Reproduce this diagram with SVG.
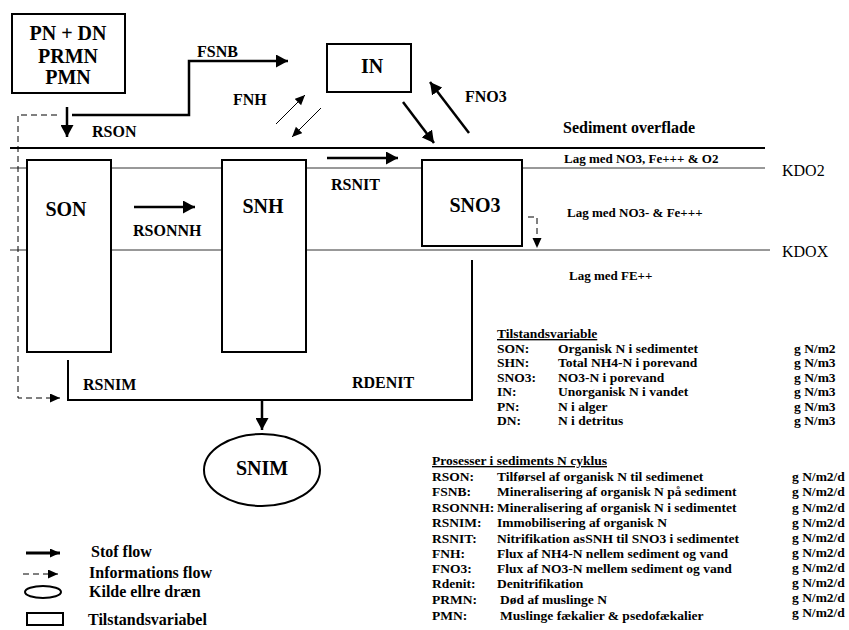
<svg xmlns="http://www.w3.org/2000/svg" width="849" height="630" viewBox="0 0 849 630" font-family="Liberation Serif, Times New Roman, DejaVu Serif, serif">
<style>
text{font-family:'Liberation Serif','Times New Roman','DejaVu Serif',serif;font-weight:bold;fill:#000}
.lbl{font-size:16px}
.big{font-size:20px}
.sm{font-size:13px}
.tb{font-size:13.5px}
.reg{font-weight:normal;font-size:16px}
.box{fill:#fff;stroke:#000;stroke-width:2}
.thick{fill:none;stroke:#000;stroke-width:2.5}
.thin{fill:none;stroke:#000;stroke-width:1}
.dash{fill:none;stroke:#000;stroke-width:1;stroke-dasharray:6,4}
.layer{fill:none;stroke:#333;stroke-width:1}
</style>
<defs>
<marker id="ah" markerUnits="userSpaceOnUse" markerWidth="13" markerHeight="13" refX="12" refY="6.5" orient="auto"><path d="M0,0 L12,6.5 L0,13 z" fill="#000"/></marker>
<marker id="ahs" markerUnits="userSpaceOnUse" markerWidth="10" markerHeight="10" refX="10" refY="4.5" orient="auto"><path d="M0,0 L10,4.5 L0,9 z" fill="#000"/></marker>
</defs>
<rect width="849" height="630" fill="#fff"/>
<g id="layers">
<line x1="10" y1="148" x2="765" y2="148" stroke="#000" stroke-width="2"/>
<line class="layer" x1="10" y1="168" x2="765" y2="168"/>
<line class="layer" x1="10" y1="250" x2="770" y2="250"/>
<text x="563" y="133" style="font-size:16px">Sediment overflade</text>
<text class="sm" x="564" y="163">Lag med NO3, Fe+++ &amp; O2</text>
<text class="sm" x="567" y="217">Lag med NO3- &amp; Fe+++</text>
<text class="sm" x="569" y="280">Lag med FE++</text>
<text class="reg" x="782" y="176">KDO2</text>
<text class="reg" x="782" y="257">KDOX</text>
</g>
<g id="connectors">
<path class="thick" d="M72,115 H189 V61 H288" marker-end="url(#ah)"/>
<path class="thick" d="M67,107 V137" marker-end="url(#ah)"/>
<path class="dash" d="M57,115 H18 V398 H60" marker-end="url(#ahs)"/>
<path class="thin" d="M276,124 L305,95" marker-end="url(#ahs)"/>
<path class="thin" d="M321,108 L292,137" marker-end="url(#ahs)"/>
<path class="thick" d="M403,102 L434,143" marker-end="url(#ah)"/>
<path class="thick" d="M469,133 L430,82" marker-end="url(#ah)"/>
<path class="thick" d="M134,207 H195" marker-end="url(#ah)"/>
<path class="thick" d="M327,158 H398" marker-end="url(#ah)"/>
<path class="dash" d="M528,217 H537 V248" marker-end="url(#ahs)"/>
<path fill="none" stroke="#000" stroke-width="2" d="M68,360 V400 H472 V260"/>
<path class="thick" d="M262,400 V430" marker-end="url(#ah)"/>
<text class="lbl" x="197" y="57">FSNB</text>
<text class="lbl" x="92" y="137">RSON</text>
<text class="lbl" x="233" y="105">FNH</text>
<text class="lbl" x="465" y="102">FNO3</text>
<text class="lbl" x="133" y="236">RSONNH</text>
<text class="lbl" x="331" y="190">RSNIT</text>
<text class="lbl" x="83" y="390">RSNIM</text>
<text class="lbl" x="352" y="388">RDENIT</text>
</g>
<g id="node-pn">
<rect class="box" x="12" y="14" width="113" height="79"/>
<text class="big" x="68" y="40" text-anchor="middle">PN + DN</text>
<text class="big" x="68" y="63" text-anchor="middle">PRMN</text>
<text class="big" x="68" y="84" text-anchor="middle">PMN</text>
</g>
<g id="node-in">
<rect class="box" x="327" y="44" width="84" height="48"/>
<text class="big" x="372" y="73" text-anchor="middle">IN</text>
</g>
<g id="node-son">
<rect class="box" x="27" y="160" width="84" height="192"/>
<text class="big" x="66" y="216" text-anchor="middle">SON</text>
</g>
<g id="node-snh">
<rect class="box" x="222" y="160" width="84" height="192"/>
<text class="big" x="263" y="213" text-anchor="middle">SNH</text>
</g>
<g id="node-sno3">
<rect class="box" x="422" y="160" width="100" height="86"/>
<text class="big" x="475" y="212" text-anchor="middle">SNO3</text>
</g>
<g id="node-snim">
<ellipse class="box" cx="262" cy="470" rx="58" ry="36"/>
<text class="big" x="262" y="475" text-anchor="middle">SNIM</text>
</g>
<g id="table-state" class="tb">
<text x="497" y="338" text-decoration="underline">Tilstandsvariable</text>
<text x="497" y="352.5">SON:</text><text x="558" y="352.5">Organisk N i sedimentet</text><text x="794" y="352.5">g N/m2</text>
<text x="497" y="367">SHN:</text><text x="558" y="367">Total NH4-N i porevand</text><text x="794" y="367">g N/m3</text>
<text x="497" y="381.5">SNO3:</text><text x="558" y="381.5">NO3-N i porevand</text><text x="794" y="381.5">g N/m3</text>
<text x="497" y="396">IN:</text><text x="558" y="396">Unorganisk N i vandet</text><text x="794" y="396">g N/m3</text>
<text x="497" y="410.5">PN:</text><text x="558" y="410.5">N i alger</text><text x="794" y="410.5">g N/m3</text>
<text x="497" y="425">DN:</text><text x="558" y="425">N i detritus</text><text x="794" y="425">g N/m3</text>
</g>
<g id="table-proc" class="tb">
<text x="432" y="465" text-decoration="underline">Prosesser i sediments N cyklus</text>
<text x="432" y="481">RSON:</text><text x="497" y="481">Tilførsel af organisk N til sedimenet</text><text x="792" y="481">g N/m2/d</text>
<text x="432" y="496">FSNB:</text><text x="497" y="496">Mineralisering af organisk N på sediment</text><text x="792" y="496">g N/m2/d</text>
<text x="432" y="511.5">RSONNH:</text><text x="497" y="511.5">Mineralisering af organisk N i sedimentet</text><text x="792" y="511.5">g N/m2/d</text>
<text x="432" y="527">RSNIM:</text><text x="497" y="527">Immobilisering af organisk N</text><text x="792" y="527">g N/m2/d</text>
<text x="432" y="542.5">RSNIT:</text><text x="497" y="542.5">Nitrifikation asSNH til SNO3 i sedimentet</text><text x="792" y="542">g N/m2/d</text>
<text x="432" y="558">FNH:</text><text x="497" y="558">Flux af NH4-N nellem sediment og vand</text><text x="792" y="557">g N/m2/d</text>
<text x="432" y="573">FNO3:</text><text x="497" y="573">Flux af NO3-N mellem sediment og vand</text><text x="792" y="572">g N/m2/d</text>
<text x="432" y="588">Rdenit:</text><text x="497" y="588">Denitrifikation</text><text x="792" y="587">g N/m2/d</text>
<text x="432" y="604">PRMN:</text><text x="500" y="604">Død af muslinge N</text><text x="792" y="602">g N/m2/d</text>
<text x="432" y="620">PMN:</text><text x="500" y="620">Muslinge fækalier &amp; psedofækalier</text><text x="792" y="617">g N/m2/d</text>
</g>
<g id="legend">
<path fill="none" stroke="#000" stroke-width="3" d="M26,553 H60" marker-end="url(#ahs)"/>
<path class="dash" d="M23,574 H58" marker-end="url(#ahs)"/>
<ellipse cx="43" cy="592" rx="18" ry="6" fill="#fff" stroke="#000" stroke-width="2"/>
<rect x="27" y="613" width="36" height="12" fill="#fff" stroke="#000" stroke-width="2"/>
<text class="lbl" x="91" y="557">Stof flow</text>
<text class="lbl" x="89" y="578">Informations flow</text>
<text class="lbl" x="89" y="597">Kilde ellre dræn</text>
<text class="lbl" x="88" y="625">Tilstandsvariabel</text>
</g>
</svg>
